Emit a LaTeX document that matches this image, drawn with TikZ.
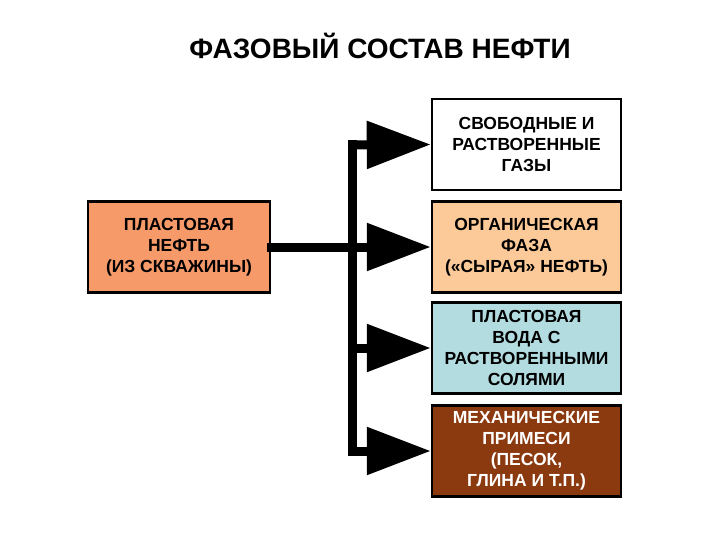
\documentclass[tikz,border=0pt]{standalone}
\usepackage{fontspec}
\setmainfont{Liberation Sans}
\usetikzlibrary{arrows.meta}

\definecolor{oilred}{HTML}{F79A6A}
\definecolor{oilpeach}{HTML}{FCCA99}
\definecolor{waterblue}{HTML}{B3DCE0}
\definecolor{sandbrown}{HTML}{8B3A10}

\tikzset{
  phase/.style={draw=black, line width=2.5pt, minimum width=189pt, minimum height=91pt,
    inner sep=0pt, align=center, font=\bfseries\fontsize{17.5}{21}\selectfont},
  flow/.style={line width=9pt, line cap=rect},
  flowarrow/.style={line width=9pt, -{Triangle[length=64pt,width=46pt]}}
}

\begin{document}
\begin{tikzpicture}[x=1pt,y=-1pt]
\useasboundingbox (0,0) rectangle (720,540);

\node (title) at (380,46) {\bfseries\fontsize{28}{33}\selectfont ФАЗОВЫЙ СОСТАВ НЕФТИ};

\node[phase, fill=oilred, minimum width=182pt] (well) at (179,247) {ПЛАСТОВАЯ\\НЕФТЬ\\(ИЗ СКВАЖИНЫ)};

\node[phase, fill=white] (gas) at (526.5,144.5) {СВОБОДНЫЕ И\\РАСТВОРЕННЫЕ\\ГАЗЫ};
\node[phase, fill=oilpeach] (organic) at (526.5,247) {ОРГАНИЧЕСКАЯ\\ФАЗА\\(«СЫРАЯ» НЕФТЬ)};
\node[phase, fill=waterblue] (water) at (526.5,348) {ПЛАСТОВАЯ\\ВОДА С\\РАСТВОРЕННЫМИ\\СОЛЯМИ};
\node[phase, fill=sandbrown, text=white] (sand) at (526.5,451) {МЕХАНИЧЕСКИЕ\\ПРИМЕСИ\\(ПЕСОК,\\ГЛИНА И Т.П.)};

\coordinate (j1) at (352,145);
\coordinate (j2) at (352,247);
\coordinate (j3) at (352,348);
\coordinate (j4) at (352,451);

\draw[flow] (well.east) -- (j2);
\draw[flow] (j1) -- (j4);

\draw[flowarrow] (j1) -- (gas.west);
\draw[flowarrow] (j2) -- (organic.west);
\draw[flowarrow] (j3) -- (water.west);
\draw[flowarrow] (j4) -- (sand.west);

\end{tikzpicture}
\end{document}
